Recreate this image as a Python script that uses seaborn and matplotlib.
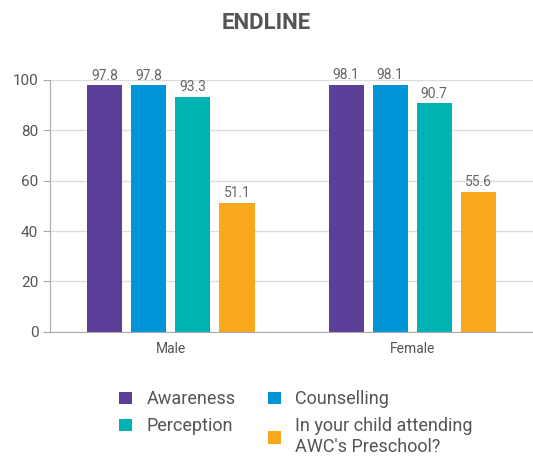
import pandas as pd
import seaborn as sns
import matplotlib.pyplot as plt

# chart data
groups = ['Male', 'Female']
series = ['Awareness', 'Counselling', 'Perception',
          "In your child attending\nAWC's Preschool?"]
male_vals = [97.8, 97.8, 93.3, 51.1]
female_vals = [98.1, 98.1, 90.7, 55.6]
colors = ['#5B3F99', '#0095D8', '#00B2B2', '#F7A81B']

df = pd.DataFrame({
    'group': [g for g in groups for _ in series],
    'series': series * 2,
    'value': male_vals + female_vals,
})

sns.set_style('white')
plt.rcParams['font.family'] = ['Roboto', 'DejaVu Sans']

fig = plt.figure(figsize=(5.33, 4.59), dpi=100)
ax = fig.add_axes([0.094, 0.277, 0.906, 0.549])

sns.barplot(data=df, x='group', y='value', hue='series', palette=colors,
            width=0.73, gap=0.2, saturation=1, linewidth=0, ax=ax, legend=True)

for c in ax.containers:
    ax.bar_label(c, fmt='%.1f', padding=2, color='#666666', fontsize=10)

ax.set_ylim(0, 100)
ax.set_yticks(range(0, 101, 20))
ax.yaxis.grid(True, color='#dddddd', linewidth=1)
ax.set_axisbelow(True)
for s in ['top', 'right']:
    ax.spines[s].set_visible(False)
ax.spines['left'].set_color('#aaaaaa')
ax.spines['bottom'].set_color('#aaaaaa')
ax.tick_params(axis='y', left=True, length=5, color='#aaaaaa',
               labelcolor='#555555', labelsize=11)
ax.tick_params(axis='x', bottom=False, labelcolor='#555555', labelsize=10)
ax.set_xlabel('')
ax.set_ylabel('')

# legend is filled column by column, so reorder for row-wise reading
handles, labels = ax.get_legend_handles_labels()
ax.get_legend().remove()
order = [0, 2, 1, 3]
fig.legend([handles[i] for i in order], [labels[i] for i in order],
           loc='upper center', bbox_to_anchor=(0.555, 0.185),
           ncol=2, frameon=False, fontsize=13, handlelength=0.7,
           handleheight=0.7, handletextpad=0.8, columnspacing=1.8,
           labelspacing=0.5, labelcolor='#555555')

fig.text(0.5, 0.95, 'ENDLINE', ha='center', va='center', fontsize=16,
         fontweight='bold', color='#555555')

fig.savefig('out.png', dpi=100)
